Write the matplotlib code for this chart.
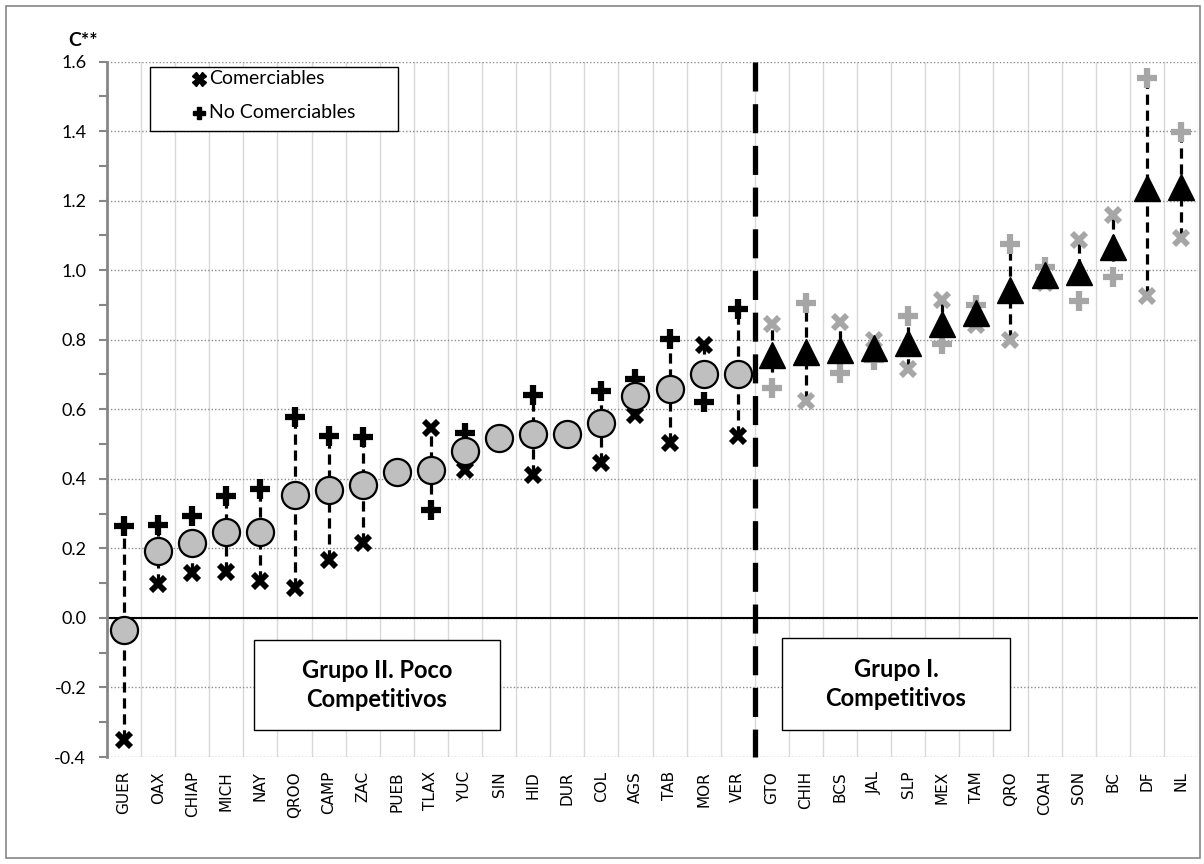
import matplotlib
matplotlib.use("Agg")
import matplotlib.pyplot as plt
from matplotlib.patches import Rectangle
from matplotlib.lines import Line2D
from matplotlib.ticker import MultipleLocator, FormatStrFormatter
import numpy as np

# ---------------- data ----------------
states = ["GUER", "OAX", "CHIAP", "MICH", "NAY", "QROO", "CAMP", "ZAC", "PUEB", "TLAX",
          "YUC", "SIN", "HID", "DUR", "COL", "AGS", "TAB", "MOR", "VER",
          "GTO", "CHIH", "BCS", "JAL", "SLP", "MEX", "TAM", "QRO", "COAH", "SON",
          "BC", "DF", "NL"]
c_total = [-0.035, 0.191, 0.215, 0.247, 0.248, 0.354, 0.368, 0.383, 0.419, 0.424,
           0.479, 0.517, 0.529, 0.529, 0.560, 0.637, 0.658, 0.702, 0.702,
           0.755, 0.766, 0.770, 0.775, 0.791, 0.846, 0.877, 0.942, 0.987, 0.994,
           1.067, 1.237, 1.240]
comerciables = [-0.351, 0.098, 0.130, 0.133, 0.105, 0.085, 0.167, 0.215, None, 0.546,
                0.426, None, 0.412, None, 0.445, 0.584, 0.503, 0.786, 0.522,
                0.846, 0.625, 0.850, 0.800, 0.716, 0.915, 0.843, 0.798, 0.964, 1.086,
                1.160, 0.925, 1.093]
no_comerciables = [0.263, 0.268, 0.293, 0.351, 0.370, 0.577, 0.524, 0.520, None, 0.309,
                   0.531, None, 0.642, None, 0.653, 0.688, 0.802, 0.622, 0.888,
                   0.661, 0.906, 0.704, 0.742, 0.869, 0.788, 0.901, 1.076, 1.009, 0.910,
                   0.980, 1.553, 1.397]
n_group2 = 19  # first 19 states: Grupo II
yticks = [-0.4, -0.2, 0.0, 0.2, 0.4, 0.6, 0.8, 1.0, 1.2, 1.4, 1.6]

W, H = 1204, 864
fig = plt.figure(figsize=(W / 100, H / 100), dpi=100)
ax = fig.add_axes([107 / W, 1 - 757 / H, (1198 - 107) / W, (757 - 61.5) / H])

n = len(states)
x = np.arange(n)

def fx(px, py):
    return (px / W, 1 - py / H)

# gridlines
for yv in yticks:
    ax.axhline(yv, color="#8c8c8c", lw=1.0, ls=(0, (1, 1.5)), zorder=1)
for k in range(1, n + 1):
    ax.axvline(k - 0.5, color="#d9d9d9", lw=1.0, zorder=0.5)
ax.axhline(0, color="black", lw=1.5, zorder=1.5)

# dashed high-low lines
for i in range(n):
    vals = [v for v in (c_total[i], comerciables[i], no_comerciables[i]) if v is not None]
    lo, hi = min(vals), max(vals)
    if hi - lo > 0.01:
        ax.plot([x[i], x[i]], [lo, hi], color="black", lw=2.3, ls=(0, (3.2, 1.8)),
                zorder=2, solid_capstyle="butt", dash_capstyle="butt")

# markers
for i in range(n):
    col = "black" if i < n_group2 else "#a6a6a6"
    if comerciables[i] is not None:
        ax.plot(x[i], comerciables[i], marker="x", ms=10, mew=4.2, color=col,
                ls="none", zorder=3)
    if no_comerciables[i] is not None:
        ax.plot(x[i], no_comerciables[i], marker="+", ms=15, mew=4.5, color=col,
                ls="none", zorder=3)

ax.plot(x[:n_group2], c_total[:n_group2], marker="o", ms=19.5, mfc="#bfbfbf", mec="black",
        mew=1.6, ls="none", zorder=4)
ax.plot(x[n_group2:], c_total[n_group2:], marker="^", ms=19, mfc="black", mec="black",
        mew=1, ls="none", zorder=4)

# group separator
ax.plot([n_group2 - 0.5, n_group2 - 0.5], [1.6, -0.4], color="black", lw=3.8,
        ls=(0, (5.5, 2.4)), zorder=5, clip_on=False)

# axes formatting
ax.set_xlim(-0.5, n - 0.5)
ax.set_ylim(-0.4, 1.6)
ax.set_yticks(yticks)
ax.yaxis.set_minor_locator(MultipleLocator(0.1))
ax.yaxis.set_major_formatter(FormatStrFormatter("%.1f"))
ax.tick_params(axis="y", which="both", direction="out", length=6, width=1.5,
               color="#868686", labelsize=13, pad=9)
for lab in ax.get_yticklabels():
    lab.set_family("Lato")
ax.set_xticks(x)
ax.set_xticklabels(states, rotation=90, fontsize=11, family="DejaVu Sans")
ax.tick_params(axis="x", length=0, pad=10)
for s in ["top", "right", "bottom"]:
    ax.spines[s].set_visible(False)
ax.spines["left"].set_color("#868686")
ax.spines["left"].set_linewidth(2)
ax.spines["left"].set_zorder(6)

# y label
fig.text(*fx(68, 40), "C**", fontsize=14, fontweight="bold", family="Lato",
         ha="left", va="center")

# legend (manual)
x0, y0 = fx(150, 131)
x1, y1 = fx(398, 67)
fig.add_artist(Rectangle((x0, y0), x1 - x0, y1 - y0, transform=fig.transFigure,
                         facecolor="white", edgecolor="black", lw=1.0, zorder=10))
fig.add_artist(Line2D([fx(199, 0)[0]], [fx(0, 79)[1]], marker="X", ms=10, color="black",
                      mec="black", transform=fig.transFigure, zorder=11))
fig.text(*fx(209, 79), "Comerciables", fontsize=14, family="Lato", va="center",
         ha="left", zorder=11)
fig.add_artist(Line2D([fx(199, 0)[0]], [fx(0, 113)[1]], marker="P", ms=9, color="black",
                      mec="black", transform=fig.transFigure, zorder=11))
fig.text(*fx(209, 113), "No Comerciables", fontsize=14, family="Lato", va="center",
         ha="left", zorder=11)

# group boxes
def group_box(l, t, r, b, txt):
    a0, b0 = fx(l, b)
    a1, b1 = fx(r, t)
    fig.add_artist(Rectangle((a0, b0), a1 - a0, b1 - b0, transform=fig.transFigure,
                             facecolor="white", edgecolor="black", lw=1.0, zorder=10))
    fig.text((a0 + a1) / 2, (b0 + b1) / 2, txt, fontsize=17, fontweight="bold",
             family="Lato", ha="center", va="center", linespacing=1.3, zorder=11)

group_box(254, 640, 500, 730, "Grupo II. Poco\nCompetitivos")
group_box(782, 638, 1010, 730, "Grupo I.\nCompetitivos")

# outer border
fig.add_artist(Rectangle((6 / W, 6 / H), (W - 10) / W, (H - 12) / H, transform=fig.transFigure,
                         facecolor="none", edgecolor="#868686", lw=1.2, zorder=0))

fig.savefig("out.png", dpi=100)
